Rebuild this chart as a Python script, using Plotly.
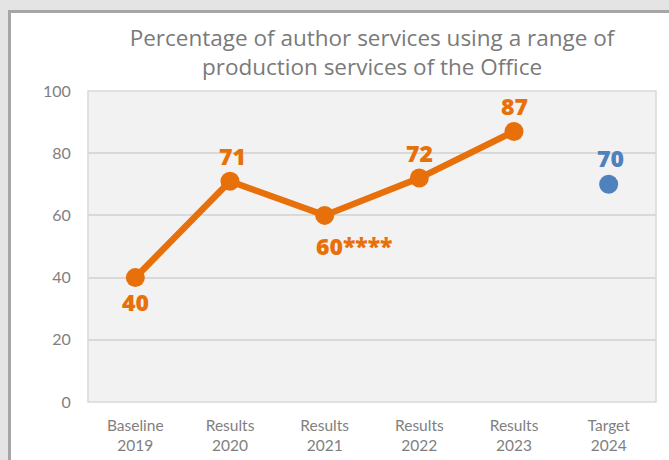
import plotly.graph_objects as go

categories = ["Baseline<br>2019", "Results<br>2020", "Results<br>2021",
              "Results<br>2022", "Results<br>2023", "Target<br>2024"]
results_x = categories[:5]
results_values = [40, 71, 60, 72, 87]
results_labels = ["40", "71", "60****", "72", "87"]
target_x = [categories[5]]
target_values = [70]
target_labels = ["70"]
y_ticks = [0, 20, 40, 60, 80, 100]

# label placement (pixel offsets from the marker centre)
results_label_shift = [(0, -24), (2, 25), (-11, -31), (0, 25), (0, 25)]
results_label_anchor = ["center", "center", "left", "center", "center"]
target_label_shift = [(2, 26)]

ORANGE = "#E8700A"
BLUE = "#4F81BD"
GREY_TXT = "#7F7F7F"
TITLE_FONT = "Open Sans, sans-serif"
LABEL_FONT = "Open Sans, sans-serif"
FONT = "Lato, sans-serif"

fig = go.Figure()
fig.add_trace(go.Scatter(
    x=results_x, y=results_values, mode="lines+markers",
    line=dict(color=ORANGE, width=6.5),
    marker=dict(color=ORANGE, size=19),
    cliponaxis=False, showlegend=False, hoverinfo="skip"))
fig.add_trace(go.Scatter(
    x=target_x, y=target_values, mode="markers",
    marker=dict(color=BLUE, size=19),
    cliponaxis=False, showlegend=False, hoverinfo="skip"))

for xv, yv, lab, (dx, dy), anc in zip(results_x, results_values, results_labels,
                                       results_label_shift, results_label_anchor):
    fig.add_annotation(x=xv, y=yv, text=lab, showarrow=False,
                       xanchor=anc, yanchor="middle", xshift=dx, yshift=dy,
                       font=dict(color=ORANGE, size=23, family=LABEL_FONT, weight=800))
for xv, yv, lab, (dx, dy) in zip(target_x, target_values, target_labels, target_label_shift):
    fig.add_annotation(x=xv, y=yv, text=lab, showarrow=False,
                       xanchor="center", yanchor="middle", xshift=dx, yshift=dy,
                       font=dict(color=BLUE, size=23, family=LABEL_FONT, weight=800))

L, R, T, B = 88, 13, 91, 58
W, H = 669, 460
pw, ph = W - L - R, H - T - B

def px_x(p):
    return (p - L) / pw

def px_y(p):
    return (H - B - p) / ph

fig.add_shape(type="rect", xref="paper", yref="paper",
              x0=px_x(9.5), x1=px_x(690), y0=px_y(480), y1=px_y(11.5),
              fillcolor="white", line=dict(color="#A6A6A6", width=3), layer="below")
fig.add_shape(type="rect", xref="paper", yref="paper",
              x0=0, x1=1, y0=0, y1=1,
              fillcolor="#F2F2F2", line=dict(color="#D9D9D9", width=1.5), layer="below")

fig.update_layout(
    width=W, height=H,
    margin=dict(l=L, r=R, t=T, b=B, autoexpand=False),
    paper_bgcolor="#E4E4E4", plot_bgcolor="rgba(0,0,0,0)",
    font=dict(family=FONT, color=GREY_TXT),
    title=dict(text="Percentage of author services using a range of<br>production services of the Office",
               x=0.5, xref="paper", xanchor="center",
               y=1 - 46 / H, yref="container", yanchor="middle",
               font=dict(size=22.5, color="#7A7A7A", family=TITLE_FONT)),
    xaxis=dict(type="category", categoryorder="array", categoryarray=categories,
               range=[-0.5, 5.5], showgrid=False, zeroline=False, showline=False,
               automargin=False,
               ticks="outside", ticklen=9, tickcolor="rgba(0,0,0,0)",
               tickfont=dict(size=15.5, color=GREY_TXT, family=FONT)),
    yaxis=dict(range=[0, 100], tickvals=y_ticks, showgrid=True, gridcolor="#D9D9D9",
               gridwidth=1.5, zeroline=False, showline=False, automargin=False,
               ticks="outside", ticklen=13, tickcolor="rgba(0,0,0,0)",
               tickfont=dict(size=16, color=GREY_TXT, family=FONT)),
)

fig.write_html("out.html",
               config={"displayModeBar": False},
               post_script="document.body.style.margin='0';"
                           "document.body.style.background='#E4E4E4';")
